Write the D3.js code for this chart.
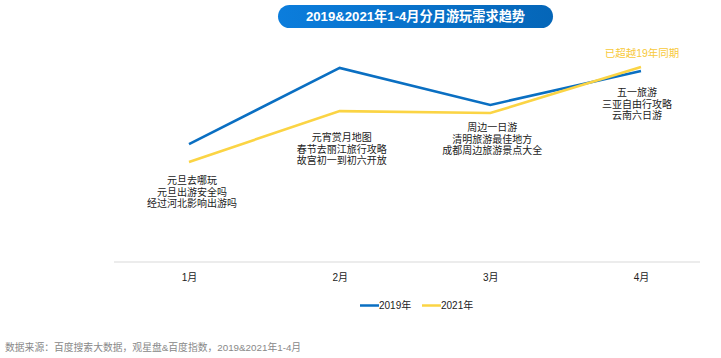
<!DOCTYPE html>
<html><head><meta charset="utf-8">
<script src="https://cdn.jsdelivr.net/npm/d3@7/dist/d3.min.js"></script>
<style>body{margin:0;background:#fff}svg{display:block}</style>
</head><body>
<svg id="c" width="721" height="358"></svg>
<script>
const months = ["1月","2月","3月","4月"];
const series2019 = [53.6, 88.2, 71.4, 86.8];
const series2021 = [45.5, 68.6, 67.7, 88.6];
const seriesNames = ["2019年","2021年"];
const annotations = [
  ["元旦去哪玩","元旦出游安全吗","经过河北影响出游吗"],
  ["元宵赏月地图","春节去丽江旅行攻略","故宫初一到初六开放"],
  ["周边一日游","清明旅游最佳地方","成都周边旅游景点大全"],
  ["五一旅游","三亚自由行攻略","云南六日游"]
];
const title = "2019&2021年1-4月分月游玩需求趋势";
const note = "已超越19年同期";
const source = "数据来源：百度搜索大数据，观星盘&百度指数，2019&2021年1-4月";

const svg = d3.select("#c");
const font = "'Liberation Sans','Noto Sans CJK SC',sans-serif";
const colors = ["#0a6fc2", "#fbd444"];

// title pill
const defs = svg.append("defs");
const g = defs.append("linearGradient").attr("id","pg").attr("x1","0").attr("x2","1");
g.append("stop").attr("offset","0").attr("stop-color","#0b7ddc");
g.append("stop").attr("offset","1").attr("stop-color","#0566b8");
svg.append("rect").attr("x",278).attr("y",5).attr("width",275).attr("height",23)
  .attr("rx",11.5).attr("fill","url(#pg)");
svg.append("text").attr("x",415.5).attr("y",21).attr("text-anchor","middle")
  .attr("fill","#fff").attr("font-weight","bold").attr("font-size",13.2)
  .attr("font-family",font).text(title);

const x = d3.scalePoint().domain(months).range([189, 641]);
const y = d3.scaleLinear().domain([0,100]).range([262, 42]);

// axis
const axis = svg.append("g").attr("transform","translate(0,262)")
  .call(d3.axisBottom(x).tickSize(0).tickPadding(12));
axis.select(".domain").remove();
svg.insert("line","g").attr("x1",114).attr("x2",700).attr("y1",262).attr("y2",262)
  .attr("stroke","#e6e6e6").attr("stroke-width",1.5);
axis.selectAll("text").attr("font-size",10).attr("font-family",font).attr("fill","#222");

const line = d3.line().x((d,i)=>x(months[i])).y(d=>y(d));
[series2019, series2021].forEach((s,k)=>{
  svg.append("path").datum(s).attr("d",line).attr("fill","none")
    .attr("stroke",colors[k]).attr("stroke-width",2.6).attr("stroke-linejoin","miter");
});

// annotations
const annOffsets = [[3,180],[2,137],[2,127],[-4,92]];
annotations.forEach((lines,i)=>{
  const t = svg.append("text").attr("text-anchor","middle").attr("font-size",10)
    .attr("font-family",font).attr("fill","#222");
  lines.forEach((l,j)=>{
    t.append("tspan").attr("x",x(months[i])+annOffsets[i][0]).attr("y",annOffsets[i][1]+4+j*11.7).text(l);
  });
});
svg.append("text").attr("x",x(months[3])+1).attr("y",57).attr("text-anchor","middle")
  .attr("font-size",10.5).attr("font-family",font).attr("fill","#f7c93a").text(note);

// legend
const lg = svg.append("g");
const legendX = [360, 422];
seriesNames.forEach((n,k)=>{
  lg.append("line").attr("x1",legendX[k]).attr("x2",legendX[k]+19).attr("y1",305.5).attr("y2",305.5)
    .attr("stroke",colors[k]).attr("stroke-width",2.5);
  lg.append("text").attr("x",legendX[k]+19).attr("y",309).attr("font-size",10)
    .attr("font-family",font).attr("fill","#222").text(n);
});

svg.append("text").attr("x",5).attr("y",351).attr("font-size",9.8).attr("font-family",font)
  .attr("fill","#888").text(source);
</script>
</body></html>
